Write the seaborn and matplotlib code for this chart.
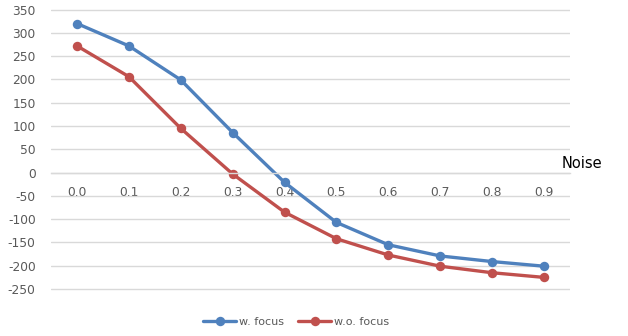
import pandas as pd
import numpy as np
import matplotlib
matplotlib.use("Agg")
import matplotlib.pyplot as plt
import seaborn as sns

noise = ["0.0", "0.1", "0.2", "0.3", "0.4", "0.5", "0.6", "0.7", "0.8", "0.9"]
w_focus = [320, 272, 199, 86, -21, -107, -155, -179, -191, -201]
wo_focus = [272, 206, 95, -3, -85, -142, -177, -201, -215, -225]
yticks = [-250, -200, -150, -100, -50, 0, 50, 100, 150, 200, 250, 300, 350]

blue = "#4F81BD"
red = "#C0504D"
grey = "#595959"

df = pd.DataFrame({
    "Noise": noise * 2,
    "value": w_focus + wo_focus,
    "series": ["w. focus"] * len(noise) + ["w.o. focus"] * len(noise),
})

sns.set_style("white")
plt.rcParams['font.family'] = ['DejaVu Sans']
plt.rcParams['axes.unicode_minus'] = False

fig = plt.figure(figsize=(6.28, 3.36), dpi=100)
# axes spans 360 .. -260 so the outer grid lines are not clipped
ax = fig.add_axes([51/628, 1 - 293.7/336, 519/628, 288.8/336])

sns.lineplot(data=df, x="Noise", y="value", hue="series",
             palette=[blue, red], marker="o", markersize=6.8,
             markeredgewidth=0, linewidth=2.4, legend=False, ax=ax, sort=False)

ax.set_xlim(-0.5, len(noise) - 0.5)
ax.set_ylim(-260, 360)
ax.set_yticks(yticks)
ax.yaxis.grid(True, color="#D9D9D9", linewidth=1)
ax.set_axisbelow(True)

for s in ["top", "right", "left"]:
    ax.spines[s].set_visible(False)
ax.spines["bottom"].set_position(("data", 0))
ax.spines["bottom"].set_color("#D9D9D9")
ax.spines["bottom"].set_linewidth(1)

ax.tick_params(axis="y", length=0, pad=11, labelsize=8.8, labelcolor=grey)
ax.tick_params(axis="x", length=0, pad=10, labelsize=8.8, labelcolor=grey)

ax.set_ylabel("")
ax.set_xlabel("Noise", fontsize=10.5, color="black", va="center")
ax.xaxis.set_label_coords((582 - 51) / 519, (293.7 - 163) / 288.8)

handles = [
    plt.Line2D([], [], color=blue, marker="o", markersize=6.8, markeredgewidth=0, linewidth=2.4),
    plt.Line2D([], [], color=red, marker="o", markersize=6.8, markeredgewidth=0, linewidth=2.4),
]
leg = fig.legend(handles, ["w. focus", "w.o. focus"], loc="center",
                 bbox_to_anchor=(296/628, 1 - 322/336), ncol=2, frameon=False,
                 fontsize=8, handlelength=3.0, handletextpad=0.2, columnspacing=1.3)
for t in leg.get_texts():
    t.set_color(grey)

fig.savefig("out.png", dpi=100)
